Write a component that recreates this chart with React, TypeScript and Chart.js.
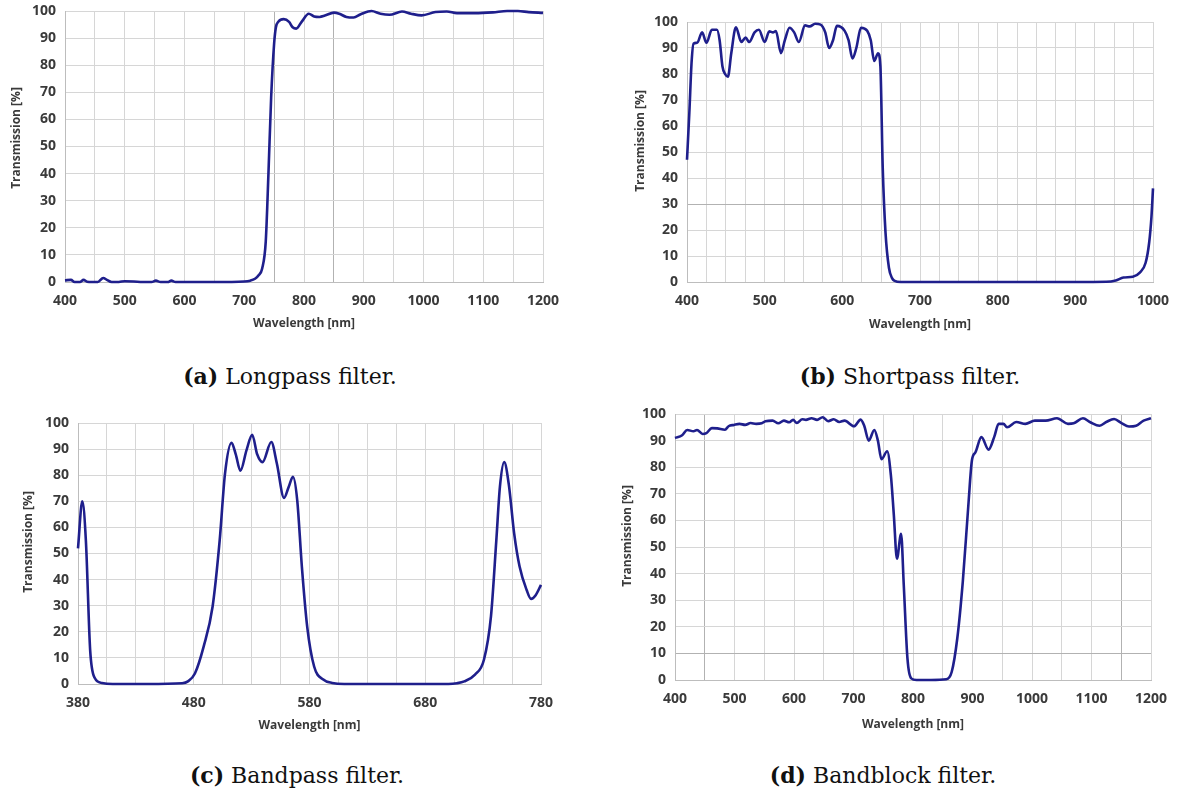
import React, { useEffect, useRef } from 'react';
import { Chart, registerables } from 'chart.js';

Chart.register(...registerables);

// ---------- DATA ----------
const aWavelength = [400, 410, 416, 425, 431, 437, 445, 455, 464, 470, 478, 490, 500, 515, 530, 545, 552, 560, 572, 578, 585, 600, 650, 700, 710, 718, 724, 730, 736, 740.5, 745, 750, 753, 757, 766, 775, 781, 787, 796, 808, 817, 826, 835, 850, 859, 871, 883, 895, 913, 928, 943, 964, 979, 997, 1020, 1039, 1056, 1086, 1116, 1140, 1158, 1176, 1200];
const aTransmission = [0.6, 0.8, 0, 0, 0.8, 0.1, 0, 0, 1.5, 0.8, 0, 0, 0.3, 0.2, 0, 0, 0.5, 0, 0, 0.5, 0, 0, 0, 0.2, 0.5, 1.2, 2.5, 5, 15, 40, 68, 88, 94, 96, 97, 96, 94, 93.5, 96, 99, 98, 97.8, 98.3, 99.4, 99, 97.8, 97.6, 98.8, 100, 99, 98.6, 99.8, 99, 98.4, 99.6, 99.8, 99.2, 99.2, 99.5, 100, 100, 99.6, 99.3];

const bWavelength = [400, 403, 406, 408.5, 413, 419.5, 425, 432, 438.5, 442, 445.6, 449, 452.7, 457, 463, 470, 475.5, 480, 487, 492.6, 500, 506, 510.7, 514.5, 521, 526, 532, 538, 544, 552, 558, 565, 572, 578, 583, 588, 593, 603, 608, 613, 618, 624, 632, 636.6, 641, 646, 649, 652, 655.6, 660, 664, 667.5, 675, 700, 750, 800, 850, 900, 940, 952, 962, 974, 983, 990.5, 995, 998, 1000];
const bTransmission = [47, 65, 85, 91.7, 92, 96, 92, 97, 97, 93, 83, 80, 79, 88, 98, 92.3, 94, 92.3, 96, 97, 92.3, 96.4, 96, 96.5, 88, 93, 97.8, 96, 92.3, 98.7, 98.3, 99.3, 99, 96, 90, 93, 98.5, 96.6, 93, 86, 90, 97.8, 96.6, 93, 85, 88, 83, 44, 19, 5.5, 1.5, 0.4, 0, 0, 0, 0, 0, 0, 0.1, 0.6, 1.7, 2, 3.6, 7.4, 15, 25, 36];

const cWavelength = [380, 383.7, 386.8, 390.5, 394.5, 400.7, 410, 440, 470, 475, 481, 488.6, 496.3, 502.4, 507, 512.6, 516.3, 520.3, 525.6, 530.5, 534.8, 539.4, 547, 551.8, 558, 562, 565.7, 569.4, 573.4, 578, 584, 591.9, 599.6, 610, 650, 700, 707.5, 713.7, 723, 730.7, 736.8, 741.4, 744.5, 748.2, 752.2, 756.8, 761.5, 767.6, 771.4, 775.4, 780];
const cTransmission = [52, 70, 55, 13, 2.3, 0.4, 0, 0, 0.3, 1, 4, 14.4, 29.7, 55, 80.6, 92.4, 88, 81.7, 89.6, 95.5, 88, 85, 92.7, 84.5, 71.3, 75.5, 79.4, 70.4, 45, 22, 6.7, 1.7, 0.4, 0, 0, 0, 0.3, 1, 3.6, 9.3, 26, 55, 75.5, 85, 76.4, 57.7, 45, 36, 32.6, 34, 38];

const dWavelength = [400, 412, 420.5, 431, 437, 446.5, 452.7, 462, 471, 484, 490, 499, 508.5, 518, 527, 536.4, 545.7, 552, 564, 573.6, 583, 592, 598.5, 604.7, 614, 620, 629.5, 638.8, 648, 657.4, 666.7, 676, 685, 700.8, 712, 718, 725.6, 735, 741, 747, 756.6, 762.8, 767.8, 773, 780, 784.5, 790.7, 797, 806, 830, 856, 865, 874.4, 883.7, 893, 899, 905, 915, 927, 936.4, 944, 952, 958, 973.6, 989, 1004.7, 1023, 1042, 1060.5, 1070, 1085.6, 1098, 1113.6, 1125.6, 1138, 1150.4, 1163, 1175, 1187.6, 1200];
const dTransmission = [91, 92, 94, 93.5, 94, 92.5, 92.8, 94.7, 94.6, 94.1, 95.4, 95.9, 96.3, 95.9, 96.6, 96.3, 96.5, 97.3, 97.5, 96.5, 97.5, 96.9, 97.8, 96.6, 98, 97.8, 98.4, 97.8, 98.8, 97.3, 98, 97, 97.5, 95.4, 97.9, 95.6, 90, 94, 90, 83, 86, 77, 62, 45.6, 55, 35.6, 8, 0.6, 0, 0, 0.25, 3, 15.6, 37, 65.6, 82.5, 85.6, 91.3, 86.6, 91.3, 96.3, 96.3, 95, 97, 96.3, 97.5, 97.5, 98.4, 96.3, 96.5, 98.4, 96.9, 95.6, 97.1, 98.1, 96.6, 95.3, 95.6, 97.5, 98.4];

const aXLabels = [400, 500, 600, 700, 800, 900, 1000, 1100, 1200];
const bXLabels = [400, 500, 600, 700, 800, 900, 1000];
const cXLabels = [380, 480, 580, 680, 780];
const dXLabels = [400, 500, 600, 700, 800, 900, 1000, 1100, 1200];
const yTickLabels = [0, 10, 20, 30, 40, 50, 60, 70, 80, 90, 100];

const xTitle = 'Wavelength [nm]';
const yTitle = 'Transmission [%]';

// ---------- STYLE ----------
const LINE = '#1f1f8c';
const TEXT = '#3a3a3a';
const GRID = '#d6d6d6';
const GRID_DARK = '#b2b2b2';
const BORDER = '#bdbdbd';
const TICK_FONT = { family: "'Open Sans', 'DejaVu Sans', sans-serif", size: 14, weight: 'bold' as const };
const TITLE_FONT = { family: "'Open Sans', 'DejaVu Sans', sans-serif", size: 12, weight: 'bold' as const };

type Panel = {
  wl: number[];
  tr: number[];
  xMin: number;
  xMax: number;
  xStep: number;
  xLabels: number[];
  box: { left: number; top: number; width: number; height: number };
  plot: { left: number; right: number; top: number; bottom: number };
  xTitleY: number;
  yTitleX: number;
  yTitleY: number;
  darkX: number[];
  darkY: number[];
};

const panels: Panel[] = [
  {
    wl: aWavelength, tr: aTransmission, xMin: 400, xMax: 1200, xStep: 50, xLabels: aXLabels,
    box: { left: 0, top: 0, width: 560, height: 340 },
    plot: { left: 65, right: 543, top: 11, bottom: 282 },
    xTitleY: 324, yTitleX: 17, yTitleY: 138, darkX: [750, 850], darkY: [],
  },
  {
    wl: bWavelength, tr: bTransmission, xMin: 400, xMax: 1000, xStep: 25, xLabels: bXLabels,
    box: { left: 600, top: 0, width: 578, height: 340 },
    plot: { left: 687, right: 1153, top: 22, bottom: 282 },
    xTitleY: 325, yTitleX: 641, yTitleY: 141, darkX: [], darkY: [30],
  },
  {
    wl: cWavelength, tr: cTransmission, xMin: 380, xMax: 780, xStep: 25, xLabels: cXLabels,
    box: { left: 0, top: 400, width: 560, height: 340 },
    plot: { left: 78, right: 541, top: 423, bottom: 684 },
    xTitleY: 726, yTitleX: 29, yTitleY: 542, darkX: [], darkY: [],
  },
  {
    wl: dWavelength, tr: dTransmission, xMin: 400, xMax: 1200, xStep: 50, xLabels: dXLabels,
    box: { left: 600, top: 400, width: 578, height: 340 },
    plot: { left: 675, right: 1151, top: 414, bottom: 680 },
    xTitleY: 725, yTitleX: 628, yTitleY: 536, darkX: [450, 1150], darkY: [10],
  },
];

const captions = [
  { tag: '(a)', text: ' Longpass filter.', cx: 290, cy: 376 },
  { tag: '(b)', text: ' Shortpass filter.', cx: 910, cy: 376 },
  { tag: '(c)', text: ' Bandpass filter.', cx: 297, cy: 775 },
  { tag: '(d)', text: ' Bandblock filter.', cx: 883, cy: 775 },
];

function PanelChart({ p }: { p: Panel }) {
  const ref = useRef<HTMLCanvasElement | null>(null);
  useEffect(() => {
    if (!ref.current) return;
    const yWidth = p.plot.left - p.box.left;
    const xHeight = p.box.top + p.box.height - p.plot.bottom;
    const lh = TITLE_FONT.size * 1.2;
    const xTitlePad = p.box.top + p.box.height - p.xTitleY - lh / 2;
    const yTitlePlugin = {
      id: 'yTitleText',
      afterDraw(chart: any) {
        const ctx = chart.ctx;
        ctx.save();
        ctx.translate(p.yTitleX - p.box.left, p.yTitleY - p.box.top);
        ctx.rotate(-Math.PI / 2);
        ctx.font = `${TITLE_FONT.weight} ${TITLE_FONT.size}px ${TITLE_FONT.family}`;
        ctx.fillStyle = TEXT;
        ctx.textAlign = 'center';
        ctx.textBaseline = 'middle';
        ctx.fillText(yTitle, 0, 0);
        ctx.restore();
      },
    };
    const chart = new Chart(ref.current, {
      type: 'line',
      data: {
        datasets: [
          {
            data: p.wl.map((x, i) => ({ x, y: p.tr[i] })),
            borderColor: LINE,
            borderWidth: 2.6,
            pointRadius: 0,
            fill: false,
            cubicInterpolationMode: 'monotone',
            clip: 4,
          },
        ],
      },
      options: {
        responsive: false,
        animation: false,
        events: [],
        layout: {
          padding: {
            top: p.plot.top - p.box.top,
            right: p.box.left + p.box.width - p.plot.right,
            left: 0,
            bottom: 0,
          },
        },
        plugins: { legend: { display: false }, tooltip: { enabled: false }, title: { display: false } },
        scales: {
          x: {
            type: 'linear',
            min: p.xMin,
            max: p.xMax,
            afterFit: (s: any) => {
              s.height = xHeight;
              s.paddingLeft = 0;
              s.paddingRight = 0;
            },
            ticks: {
              stepSize: p.xStep,
              autoSkip: false,
              maxRotation: 0,
              minRotation: 0,
              padding: 11,
              color: TEXT,
              font: TICK_FONT,
              callback: (v: any) => (p.xLabels.includes(Number(v)) ? String(v) : ''),
            },
            grid: {
              drawTicks: false,
              lineWidth: 1,
              color: (ctx: any) => (ctx.tick && p.darkX.includes(ctx.tick.value) ? GRID_DARK : GRID),
            },
            border: { color: BORDER },
            title: {
              display: true,
              text: xTitle,
              color: TEXT,
              font: TITLE_FONT,
              padding: { top: 0, bottom: xTitlePad },
            },
          },
          y: {
            min: 0,
            max: 100,
            afterFit: (s: any) => {
              s.width = yWidth;
              s.paddingTop = 0;
              s.paddingBottom = 0;
            },
            ticks: {
              stepSize: 10,
              padding: 9,
              color: TEXT,
              font: TICK_FONT,
              callback: (v: any) => (yTickLabels.includes(Number(v)) ? String(v) : ''),
            },
            grid: {
              drawTicks: false,
              lineWidth: 1,
              color: (ctx: any) => (ctx.tick && p.darkY.includes(ctx.tick.value) ? GRID_DARK : GRID),
            },
            border: { color: BORDER },
            title: { display: false },
          },
        },
      },
      plugins: [yTitlePlugin],
    } as any);
    return () => chart.destroy();
  }, [p]);
  return (
    <canvas
      ref={ref}
      width={p.box.width}
      height={p.box.height}
      style={{ position: 'absolute', left: p.box.left, top: p.box.top, width: p.box.width, height: p.box.height }}
    />
  );
}

export default function App() {
  return (
    <div style={{ position: 'absolute', left: 0, top: 0, width: 1178, height: 796, background: '#ffffff', overflow: 'hidden' }}>
      {panels.map((p, i) => (
        <PanelChart key={i} p={p} />
      ))}
      {captions.map((c, i) => (
        <div
          key={i}
          style={{
            position: 'absolute',
            left: c.cx - 200,
            top: c.cy - 13,
            width: 400,
            height: 26,
            lineHeight: '26px',
            textAlign: 'center',
            fontFamily: "'DejaVu Serif', serif",
            fontSize: 22,
            color: '#111',
            whiteSpace: 'nowrap',
          }}
        >
          <b>{c.tag}</b>
          {c.text}
        </div>
      ))}
    </div>
  );
}
